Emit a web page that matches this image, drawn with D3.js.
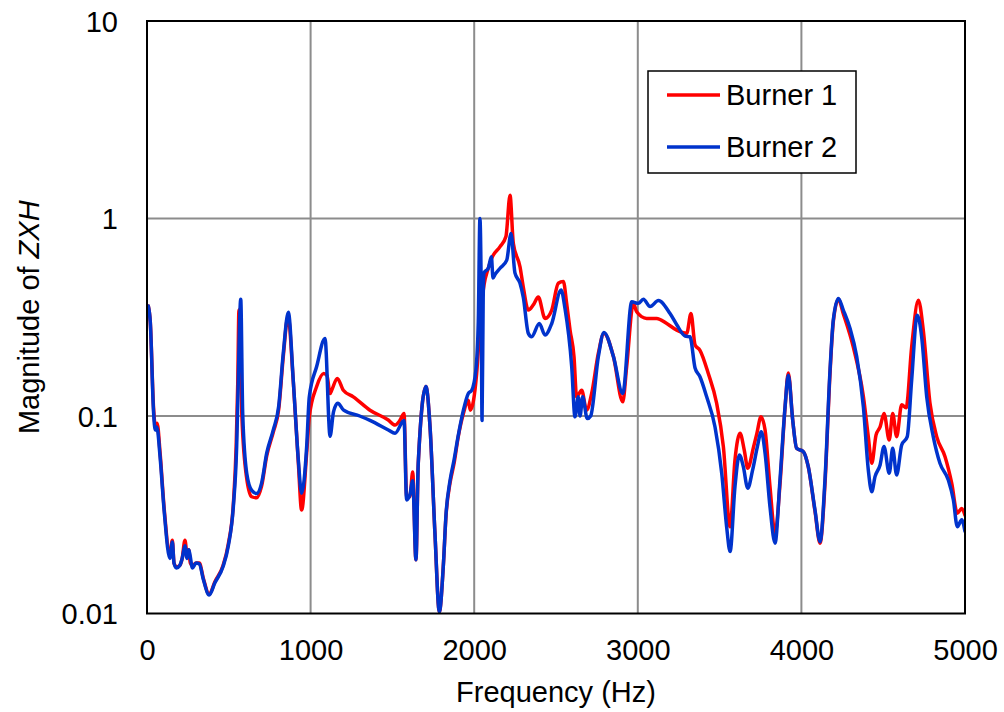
<!DOCTYPE html>
<html><head><meta charset="utf-8">
<script src="https://cdn.jsdelivr.net/npm/d3@7"></script>
<style>
body{margin:0;background:#fff}
text{font-family:"Liberation Sans",Arial,sans-serif;fill:#000}
</style>
</head><body>
<svg id="chart" width="1004" height="712"></svg>
<script>
// ---- data ----
const seriesNames = ["Burner 1", "Burner 2"];
const seriesColors = ["#ff0000", "#0033cc"];
const xTicks = [0, 1000, 2000, 3000, 4000, 5000];
const yTicks = [0.01, 0.1, 1, 10];
const yTickLabels = ["0.01", "0.1", "1", "10"];

const freq1 = [8,20,40,50,62,80,105,140,155,165,180,200,215,232,245,255,265,278,300,320,345,380,415,465,497,528,545,555,562,570,580,610,640,670,700,732,772,805,833,862,894,925,945,976,992,1037,1080,1100,1119,1129,1163,1200,1261,1363,1475,1516,1546,1571,1587,1607,1624,1644,1658,1705,1730,1760,1787,1811,1828,1852,1877,1903,1934,1964,1976,2015,2040,2060,2086,2107,2158,2194,2219,2239,2280,2300,2331,2361,2392,2433,2474,2514,2545,2565,2586,2610,2626,2657,2687,2718,2759,2793,2851,2908,2932,2973,2993,3054,3115,3177,3238,3299,3325,3350,3380,3431,3482,3523,3564,3594,3625,3651,3672,3708,3728,3753,3778,3808,3839,3869,3900,3920,3947,3971,4012,4042,4083,4114,4144,4175,4195,4226,4256,4317,4379,4409,4430,4456,4481,4505,4537,4558,4582,4613,4640,4674,4715,4745,4786,4827,4878,4919,4953,4980,5000];
const burner1 = [0.36,0.30,0.11,0.09,0.092,0.065,0.034,0.02,0.0235,0.018,0.0172,0.0175,0.019,0.0235,0.02,0.021,0.018,0.0175,0.018,0.018,0.015,0.0125,0.0145,0.0175,0.0225,0.036,0.07,0.15,0.344,0.30,0.1,0.048,0.039,0.0385,0.044,0.063,0.083,0.108,0.2,0.32,0.15,0.058,0.0334,0.065,0.099,0.141,0.164,0.16,0.13,0.135,0.155,0.135,0.125,0.107,0.0954,0.09,0.095,0.103,0.039,0.039,0.052,0.0187,0.0576,0.141,0.088,0.0255,0.0102,0.0173,0.0315,0.0456,0.0576,0.079,0.103,0.12,0.107,0.164,0.33,0.46,0.56,0.63,0.72,0.81,1.31,0.75,0.57,0.45,0.344,0.365,0.40,0.312,0.344,0.47,0.48,0.372,0.272,0.2,0.125,0.135,0.107,0.13,0.208,0.262,0.2,0.118,0.178,0.372,0.337,0.312,0.312,0.294,0.272,0.262,0.33,0.229,0.215,0.164,0.116,0.07,0.0275,0.06,0.0817,0.067,0.0544,0.07,0.0817,0.099,0.085,0.0439,0.0255,0.045,0.11,0.165,0.095,0.0686,0.066,0.0554,0.033,0.0227,0.045,0.165,0.3,0.39,0.33,0.224,0.125,0.0786,0.0576,0.08,0.088,0.103,0.0756,0.103,0.0786,0.114,0.11,0.224,0.386,0.272,0.116,0.0786,0.0622,0.0456,0.0322,0.034,0.0315];

const freq2 = [8,20,40,50,60,80,105,140,155,165,180,200,215,232,245,255,262,278,300,320,345,380,415,465,497,528,548,558,566,573,585,610,640,670,700,732,772,805,833,864,894,925,945,976,992,1037,1088,1119,1140,1166,1202,1300,1363,1475,1516,1571,1587,1607,1624,1644,1658,1705,1730,1760,1787,1811,1828,1852,1877,1903,1934,1964,1985,2010,2025,2035,2042,2048,2055,2060,2086,2105,2115,2127,2158,2199,2225,2249,2280,2300,2331,2351,2398,2433,2474,2531,2555,2596,2616,2636,2647,2663,2691,2712,2759,2793,2851,2908,2963,3003,3034,3075,3126,3197,3238,3289,3319,3350,3380,3421,3472,3513,3543,3564,3594,3621,3645,3672,3702,3731,3755,3778,3808,3839,3869,3900,3920,3947,3971,4012,4042,4083,4114,4144,4175,4195,4226,4256,4297,4338,4379,4409,4430,4450,4481,4505,4537,4558,4582,4613,4647,4674,4708,4735,4766,4806,4847,4898,4929,4953,4980,5000];
const burner2 = [0.36,0.30,0.105,0.085,0.088,0.062,0.033,0.019,0.023,0.018,0.017,0.0175,0.019,0.022,0.019,0.021,0.020,0.017,0.018,0.0178,0.0148,0.0124,0.0143,0.0173,0.022,0.035,0.07,0.15,0.30,0.39,0.103,0.051,0.042,0.0405,0.0456,0.065,0.085,0.112,0.208,0.335,0.152,0.06,0.0406,0.07,0.125,0.178,0.247,0.079,0.105,0.116,0.107,0.1,0.095,0.085,0.0817,0.095,0.0376,0.04,0.047,0.0187,0.0576,0.141,0.088,0.0255,0.0102,0.0173,0.032,0.047,0.06,0.08,0.107,0.13,0.135,0.17,0.3,1.0,0.5,0.095,0.4,0.53,0.56,0.64,0.5,0.52,0.56,0.616,0.84,0.53,0.47,0.40,0.262,0.252,0.294,0.257,0.294,0.434,0.35,0.178,0.099,0.125,0.1,0.125,0.097,0.1,0.2,0.265,0.2,0.13,0.379,0.372,0.39,0.358,0.384,0.33,0.29,0.254,0.252,0.175,0.158,0.125,0.088,0.0513,0.0275,0.0206,0.0439,0.0635,0.0554,0.0431,0.0533,0.07,0.0833,0.0647,0.0347,0.0227,0.0474,0.111,0.161,0.095,0.0686,0.066,0.0554,0.0334,0.0231,0.0474,0.171,0.306,0.394,0.344,0.278,0.2,0.111,0.0533,0.0414,0.0493,0.0565,0.07,0.0513,0.0686,0.0503,0.0713,0.0786,0.152,0.324,0.252,0.125,0.0786,0.0576,0.0474,0.0376,0.0275,0.0298,0.026];

// ---- layout ----
const L = 147, R = 965, T = 21, B = 613.5;
const svg = d3.select("#chart");
const x = d3.scaleLinear().domain([0, 5000]).range([L, R]);
const y = d3.scaleLog().domain([0.01, 10]).range([B, T]);
const FS = 29;

// gridlines
const grid = svg.append("g").attr("stroke", "#8c8c8c").attr("stroke-width", 2);
grid.selectAll("line.v").data(xTicks.slice(1, -1)).enter().append("line")
  .attr("x1", d => x(d)).attr("x2", d => x(d)).attr("y1", T).attr("y2", B);
grid.selectAll("line.h").data(yTicks.slice(1, -1)).enter().append("line")
  .attr("x1", L).attr("x2", R).attr("y1", d => y(d)).attr("y2", d => y(d));

// series
svg.append("clipPath").attr("id", "clip").append("rect")
  .attr("x", L).attr("y", T - 2).attr("width", R - L).attr("height", B - T + 4);
const line = d3.line().x(d => x(d[0])).y(d => y(d[1])).curve(d3.curveMonotoneX);
const series = [d3.zip(freq1, burner1), d3.zip(freq2, burner2)];
series.forEach((s, i) => {
  svg.append("path").datum(s).attr("d", line)
    .attr("fill", "none").attr("stroke", seriesColors[i])
    .attr("stroke-width", 3.5).attr("stroke-linejoin", "round").attr("stroke-linecap", "round")
    .attr("clip-path", "url(#clip)");
});

// frame
svg.append("rect").attr("x", L).attr("y", T).attr("width", R - L).attr("height", B - T)
  .attr("fill", "none").attr("stroke", "#000").attr("stroke-width", 2);

// axes (tick labels via d3 axes)
const xAxis = d3.axisBottom(x).tickValues(xTicks).tickSize(0).tickPadding(0).tickFormat(d3.format("d"));
const gx = svg.append("g").attr("transform", `translate(0,${B})`).call(xAxis);
gx.select(".domain").remove();
gx.selectAll("text").attr("font-size", FS).attr("dy", null).attr("y", 46)
  .attr("font-family", '"Liberation Sans",Arial,sans-serif').attr("fill", "#000");

const yAxis = d3.axisLeft(y).tickValues(yTicks).tickSize(0).tickPadding(0)
  .tickFormat((d, i) => yTickLabels[i]);
const gy = svg.append("g").attr("transform", `translate(${L},0)`).call(yAxis);
gy.select(".domain").remove();
gy.selectAll("text").attr("font-size", FS).attr("x", -29).attr("dy", "0.35em")
  .attr("font-family", '"Liberation Sans",Arial,sans-serif').attr("fill", "#000");

// axis titles
svg.append("text").attr("x", (L + R) / 2).attr("y", 702).attr("text-anchor", "middle")
  .attr("font-size", FS).text("Frequency (Hz)");
const yt = svg.append("text").attr("transform", `translate(39,${(T + B) / 2}) rotate(-90)`)
  .attr("text-anchor", "middle").attr("font-size", FS);
yt.append("tspan").text("Magnitude of ");
yt.append("tspan").attr("font-style", "italic").text("ZXH");

// legend
const lg = svg.append("g");
lg.append("rect").attr("x", 648).attr("y", 71).attr("width", 208).attr("height", 102)
  .attr("fill", "#fff").attr("stroke", "#000").attr("stroke-width", 1.5);
seriesNames.forEach((n, i) => {
  const yy = 95 + i * 52;
  lg.append("line").attr("x1", 667).attr("x2", 720).attr("y1", yy).attr("y2", yy)
    .attr("stroke", seriesColors[i]).attr("stroke-width", 3.5);
  lg.append("text").attr("x", 726).attr("y", yy + 10).attr("font-size", FS).text(n);
});
</script>
</body></html>
